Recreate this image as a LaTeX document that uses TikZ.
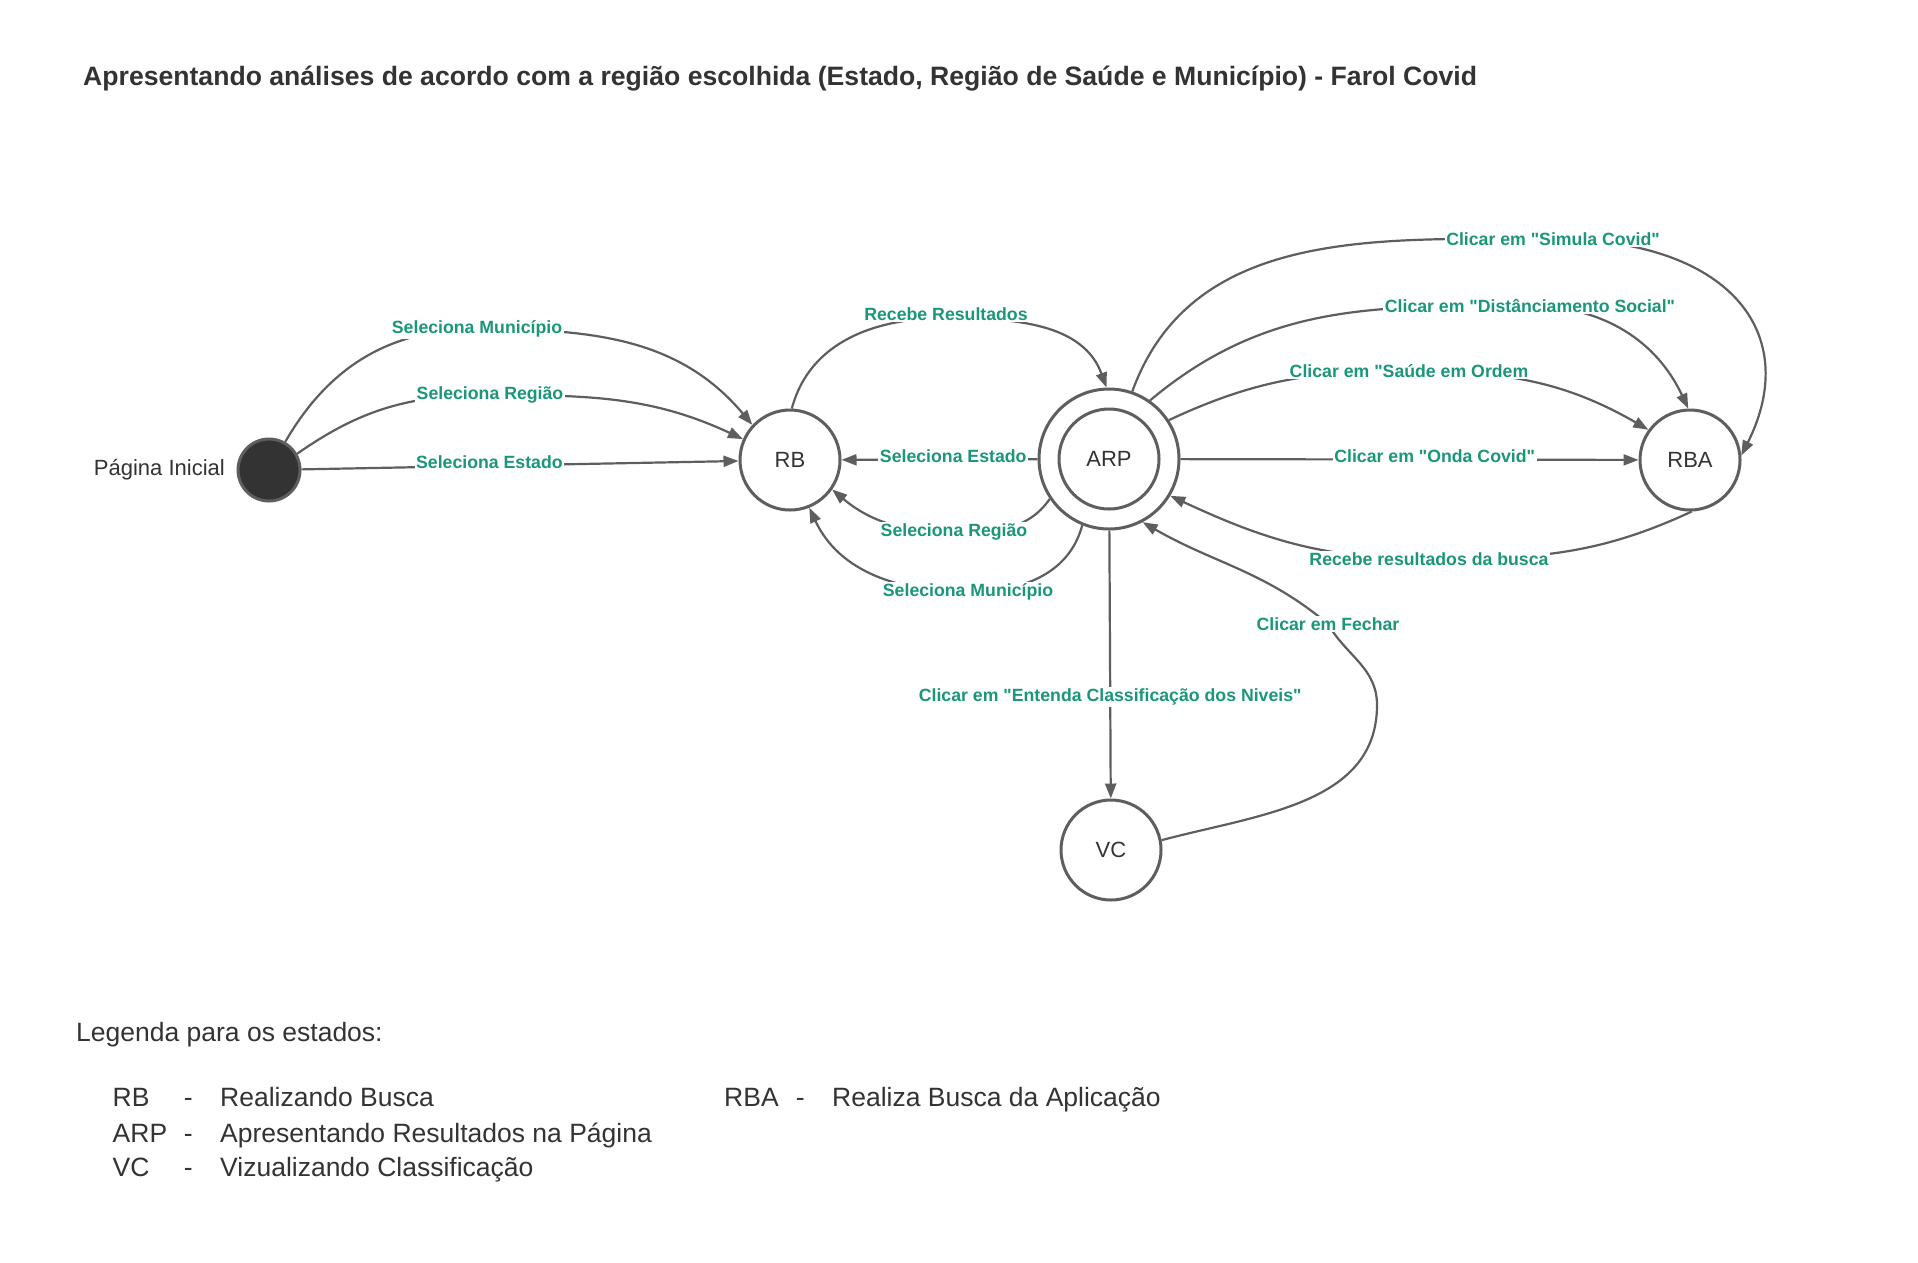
\documentclass[tikz,border=0pt]{standalone}
\usepackage{fontspec}
\setmainfont{Liberation Sans}
\usetikzlibrary{arrows.meta}
\definecolor{lc}{HTML}{5E5E5E}
\definecolor{gr}{HTML}{1A967A}
\definecolor{tx}{HTML}{333333}
\newcommand{\dq}{\XeTeXglyph\XeTeXcharglyph"22\relax}
\begin{document}
\begin{tikzpicture}[x=1pt,y=1pt,
 state/.style={circle,draw=lc,line width=3pt,minimum size=100pt,inner sep=0pt,text=tx,font=\fontsize{22}{26}\selectfont},
 dot/.style={circle,draw=lc,fill=tx,line width=3pt,minimum size=62pt,inner sep=0pt},
 edge/.style={draw=lc,line width=2.2pt,-{Triangle[length=15pt,width=11pt]}},
 lab/.style={fill=white,text=gr,font=\fontsize{17.7}{20}\bfseries\selectfont,inner sep=1.5pt},
 leg/.style={anchor=west,inner sep=0pt,text=tx,font=\fontsize{26.5}{30}\selectfont,text height=0.72em,text depth=0pt},
 ttl/.style={anchor=west,inner sep=0pt,text=tx,font=\fontsize{26.6}{30}\bfseries\selectfont,text height=0.72em,text depth=0pt}
]
\useasboundingbox[fill=white] (0,0) rectangle (1918,-1262);

\node[ttl] (title) at (83,-82) {Apresentando análises de acordo com a região escolhida (Estado, Região de Saúde e Município) - Farol Covid};

% states
\node[dot] (init) at (269,-470) {};
\node[anchor=east,inner sep=0pt,text=tx,font=\fontsize{22}{26}\selectfont,text height=0.72em,text depth=0pt] (pi) at (225,-472) {Página Inicial};
\node[state] (rb) at (790,-460) {RB};
\node[state,minimum size=140pt] (arp) at (1109,-459) {};
\node[state] (arpin) at (1109,-459) {ARP};
\node[state] (rba) at (1690,-460) {RBA};
\node[state] (vc) at (1111,-850) {VC};

% initial -> RB
\draw[edge] (init) -- node[lab,pos=0.43,yshift=4pt]{Seleciona Estado} (rb);
\draw[edge] (init.30) to[out=35,in=180] (490,-395) node[lab]{Seleciona Região} to[out=0,in=155] (rb.156);
\draw[edge] (init.60) to[out=60,in=180] (477,-329) node[lab]{Seleciona Município} to[out=0,in=130] (rb.137);

% RB -> ARP
\draw[edge] (rb.88) to[out=75,in=180] (946,-318) node[lab,yshift=4pt]{Recebe Resultados} to[out=0,in=110] (arp.92);

% ARP -> RB
\draw[edge] (arp) -- node[lab,pos=0.43,yshift=3pt]{Seleciona Estado} (rb);
\draw[edge] (arp.214) to[out=235,in=0] (954,-532) node[lab]{Seleciona Região} to[out=180,in=-40] (rb.-35);
\draw[edge] (arp.248) to[out=255,in=0] (968,-592) node[lab]{Seleciona Município} to[out=180,in=-65] (rb.-68);

% ARP -> RBA
\draw[edge] (arp.71) to[out=70,in=180] (1553,-239) node[lab]{Clicar em \dq Simula Covid\dq} .. controls (1728,-239) and (1803,-332) .. (rba.5);
\draw[edge] (arp.55) to[out=40,in=180] (1530,-306) node[lab]{Clicar em \dq Distânciamento Social\dq} to[out=0,in=115] (rba.92);
\draw[edge] (arp.33) to[out=25,in=180] (1409,-371) node[lab]{Clicar em \dq Saúde em Ordem} to[out=0,in=150] (rba.144);
\draw[edge] (arp) -- node[lab,pos=0.555,yshift=3pt]{Clicar em \dq Onda Covid\dq} (rba);

% RBA -> ARP
\draw[edge] (rba.-88) to[out=205,in=0] (1429,-559) node[lab]{Recebe resultados da busca} to[out=180,in=-25] (arp.-31);

% ARP <-> VC
\draw[edge] (arp) -- node[lab,pos=0.622]{Clicar em \dq Entenda Classificação dos Niveis\dq} (vc);
\coordinate (fr) at (1377,-705);
\draw[edge] (vc.11) to[out=15,in=-90] (fr) to[out=90,in=-60] (1328,-624) node[lab]{Clicar em Fechar} to[out=140,in=-30] (arp.-62);

% legend
\node[leg] (lg) at (76,-1038) {Legenda para os estados:};
\node[leg] (k1) at (112.5,-1103) {RB};
\node[leg] (d1) at (183.6,-1103) {-};
\node[leg] (v1) at (220,-1103) {Realizando Busca};
\node[leg] (k2) at (112.5,-1139) {ARP};
\node[leg] (d2) at (183.6,-1139) {-};
\node[leg] (v2) at (220,-1139) {Apresentando Resultados na Página};
\node[leg] (k3) at (112.5,-1173) {VC};
\node[leg] (d3) at (183.6,-1173) {-};
\node[leg] (v3) at (220,-1173) {Vizualizando Classificação};
\node[leg] (k4) at (724,-1103) {RBA};
\node[leg] (d4) at (795.6,-1103) {-};
\node[leg] (v4) at (832,-1103) {Realiza Busca da Aplicação};
\end{tikzpicture}
\end{document}
